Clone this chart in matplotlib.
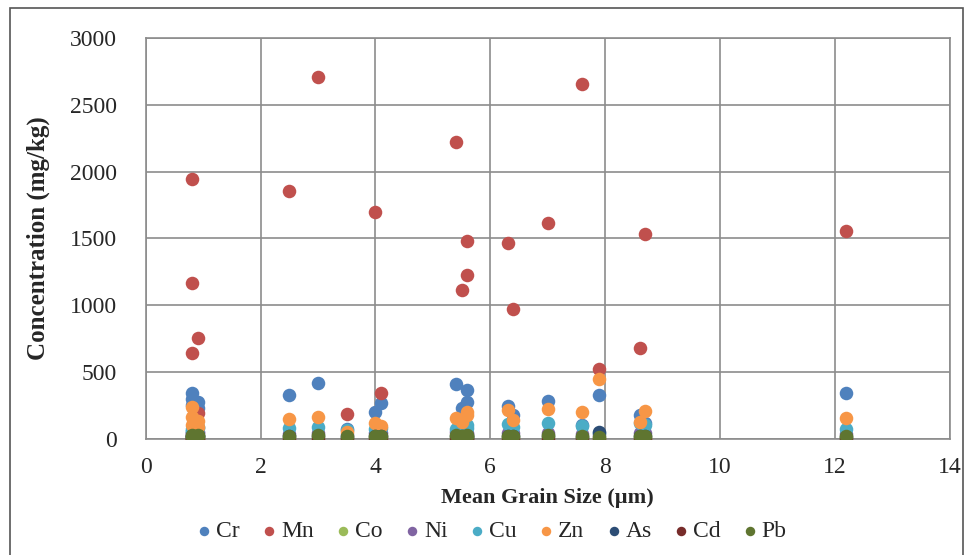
import matplotlib.pyplot as plt
from matplotlib.patches import Rectangle

plt.rcParams['font.family'] = ['Liberation Serif', 'DejaVu Serif']

# Mean grain size of each sample (um)
grain_size = [0.8, 0.8, 0.9, 0.8, 0.9, 2.5, 3.0, 3.5, 4.0, 4.1, 5.4,
              5.5, 5.6, 5.6, 6.3, 6.4, 7.0, 7.6, 7.9, 8.6, 8.7, 12.2]

# Metal concentrations per sample (mg/kg)
cr = [340, 300, 277, 250, 230, 327, 420, 70, 202, 265, 407,
      228, 365, 277, 245, 175, 280, 105, 330, 180, 120, 340]
mn = [1945, 1165, 755, 645, 195, 1852, 2706, 188, 1694, 345, 2218,
      1110, 1480, 1226, 1466, 972, 1616, 2657, 522, 682, 1534, 1558]
co = [15, 12, 14, 10, 13, 12, 14, 9, 12, 13, 15,
      12, 14, 11, 13, 12, 14, 10, 8, 12, 13, 11]
ni = [45, 40, 50, 35, 42, 38, 45, 30, 40, 42, 48,
      40, 45, 38, 44, 40, 46, 35, 25, 42, 44, 36]
cu = [70, 60, 80, 55, 90, 80, 85, 65, 70, 80, 75,
      90, 100, 80, 110, 85, 120, 97, 45, 117, 100, 70]
zn = [240, 160, 130, 100, 85, 150, 160, 50, 115, 95, 153,
      127, 202, 175, 215, 140, 220, 200, 446, 127, 210, 153]
as_ = [20, 18, 22, 15, 20, 18, 20, 14, 18, 20, 22,
       18, 20, 16, 20, 18, 22, 15, 50, 18, 20, 16]
cd = [1, 1, 1, 1, 1, 1, 1, 1, 1, 1, 1,
      1, 1, 1, 1, 1, 1, 1, 1, 1, 1, 1]
pb = [25, 20, 30, 18, 22, 20, 25, 18, 22, 24, 28,
      22, 26, 20, 24, 22, 26, 18, 15, 22, 24, 20]

elements = ['Cr', 'Mn', 'Co', 'Ni', 'Cu', 'Zn', 'As', 'Cd', 'Pb']
series = [cr, mn, co, ni, cu, zn, as_, cd, pb]
colors = ['#4F81BD', '#C0504D', '#9BBB59', '#8064A2', '#4BACC6',
          '#F79646', '#2C4D75', '#772C2A', '#5F7530']

fig = plt.figure(figsize=(9.66, 5.55), dpi=100)
ax = fig.add_axes([0.151, 0.2095, 0.832, 0.722])

for name, vals, c in zip(elements, series, colors):
    ax.scatter(grain_size, vals, s=95, color=c, label=name,
               linewidths=0, zorder=3)

grid_c = '#8C8C8C'
text_c = '#262626'
ax.set_xlim(0, 14)
ax.set_ylim(0, 3000)
ax.set_xticks(range(0, 15, 2))
ax.set_yticks(range(0, 3001, 500))
ax.grid(True, color=grid_c, linewidth=1.2)
for sp in ax.spines.values():
    sp.set_color(grid_c)
    sp.set_linewidth(1.2)
ax.tick_params(length=0, labelsize=17, colors=text_c)
ax.tick_params(axis='y', pad=21)
ax.tick_params(axis='x', pad=13)

ax.set_xlabel('Mean Grain Size (\u00b5m)', fontsize=16, fontweight='bold',
              labelpad=7, color=text_c)
ax.set_ylabel('Concentration (mg/kg)', fontsize=18, fontweight='bold',
              labelpad=14, color=text_c)

leg = fig.legend(loc='center', bbox_to_anchor=(0.507, 0.043), ncol=9,
                 frameon=False, fontsize=17, markerscale=0.7,
                 handletextpad=0.0, columnspacing=0.75, handlelength=1.0)
for t in leg.get_texts():
    t.set_color(text_c)

# outer frame of the figure
fig.patches.append(Rectangle((10 / 966, -0.02), 953 / 966, 1 - 8 / 555 + 0.02,
                             transform=fig.transFigure, fill=False,
                             edgecolor='#555555', linewidth=1.2))

fig.savefig('out.png', dpi=100)
